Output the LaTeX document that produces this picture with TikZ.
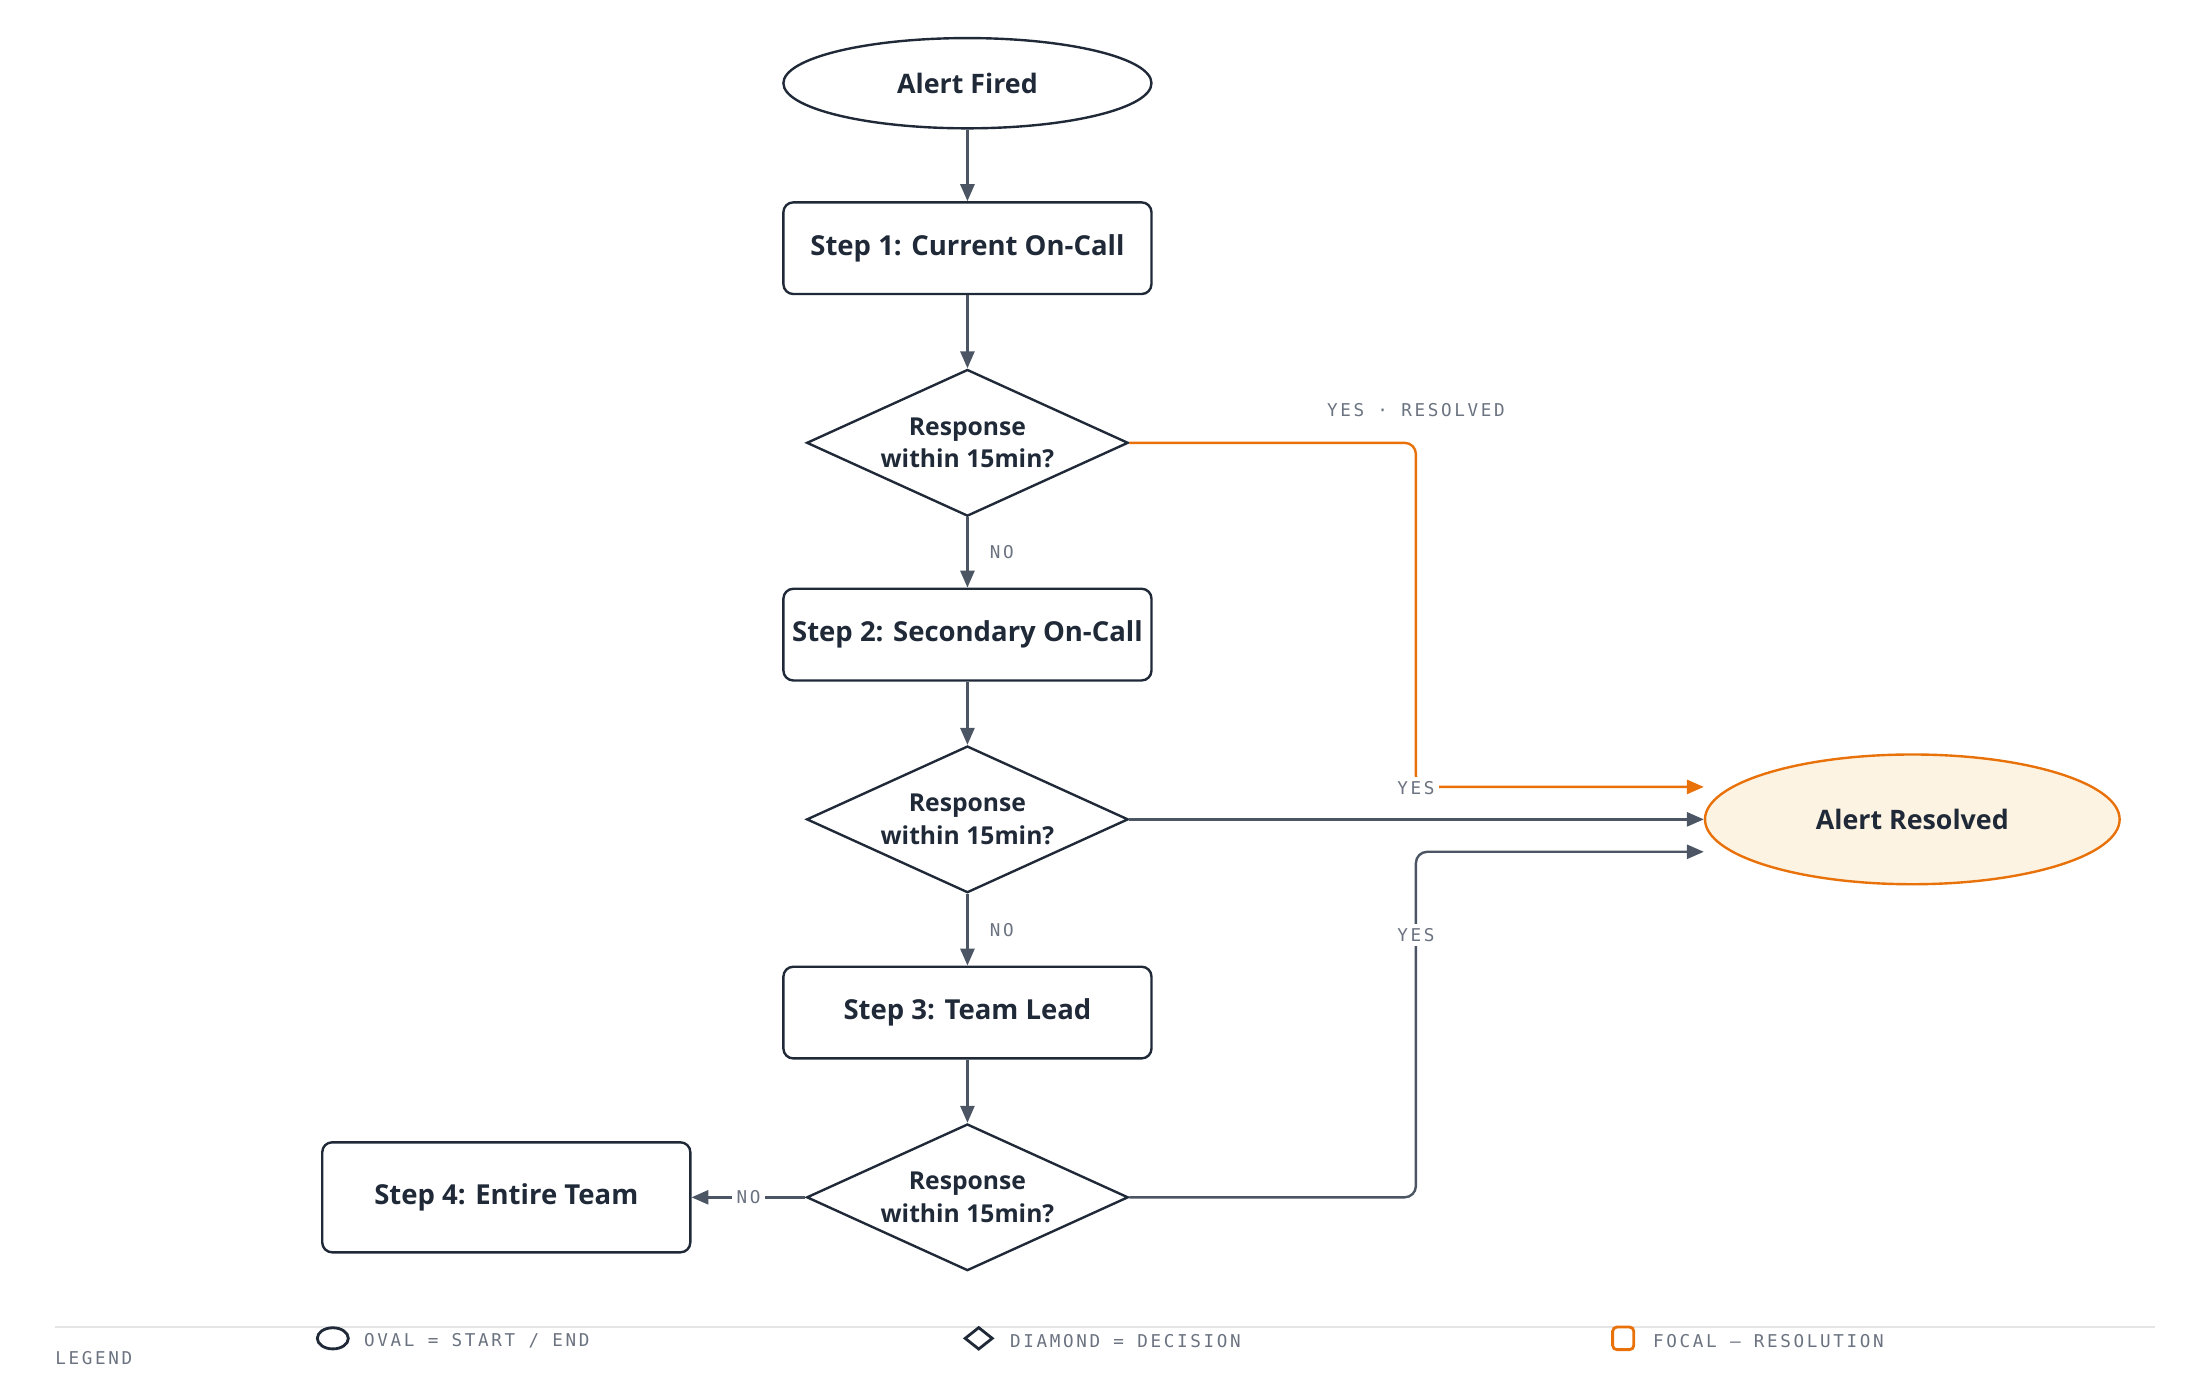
\documentclass[tikz,border=0pt]{standalone}
\usepackage{fontspec}
\setmainfont{Open Sans}
\newfontfamily\labf{DejaVu Sans Mono}[LetterSpace=15]
\usetikzlibrary{shapes.geometric,arrows.meta}
\definecolor{ink}{HTML}{1F2937}
\definecolor{arr}{HTML}{4B5563}
\definecolor{lab}{HTML}{6B7280}
\definecolor{org}{HTML}{E8710A}
\definecolor{cream}{HTML}{FDF3E3}
\begin{document}
\begin{tikzpicture}[x=1pt,y=-1pt,
  box/.style={draw=ink,line width=1.7pt,rounded corners=7pt,minimum width=261pt,minimum height=65pt,font=\fontsize{19.5}{22}\selectfont\bfseries,text=ink},
  dec/.style={draw=ink,line width=1.7pt,diamond,aspect=2.2,minimum width=228pt,minimum height=104pt,inner sep=0pt,align=center,font=\fontsize{17.5}{23}\selectfont\bfseries,text=ink},
  oval/.style={draw=ink,line width=1.7pt,ellipse,minimum width=261pt,minimum height=64pt,font=\fontsize{19}{22}\selectfont\bfseries,text=ink},
  fl/.style={draw=arr,line width=1.7pt,-{Triangle[length=12pt,width=10pt]}},
  lbl/.style={font=\labf\fontsize{12.5}{14}\selectfont,text=lab,fill=white,inner sep=3pt},
  leg/.style={font=\labf\fontsize{12.5}{14}\selectfont,text=lab,anchor=west,inner sep=0pt}]
\useasboundingbox (0,0) rectangle (1560,976);
\node[oval] (start) at (686,59) {Alert Fired};
\node[box] (s1) at (686,176) {Step 1: Current On-Call};
\node[dec] (d1) at (686,314) {Response\\within 15min?};
\node[box] (s2) at (686,450) {Step 2: Secondary On-Call};
\node[dec] (d2) at (686,581) {Response\\within 15min?};
\node[box] (s3) at (686,718) {Step 3: Team Lead};
\node[dec] (d3) at (686,849) {Response\\within 15min?};
\node[box,minimum height=78pt] (s4) at (359,849) {Step 4: Entire Team};
\node[oval,draw=org,fill=cream,minimum width=294pt,minimum height=92pt] (res) at (1356,581) {Alert Resolved};
\coordinate (c1) at (1004,314);
\coordinate (c2) at (1004,604);
\draw[fl] (start) -- (s1);
\draw[fl] (s1) -- (d1);
\draw[fl] (d1) -- node[lbl,right=12pt,fill=none]{NO} (s2);
\draw[fl] (s2) -- (d2);
\draw[fl] (d2) -- node[lbl,right=12pt,fill=none]{NO} (s3);
\draw[fl] (s3) -- (d3);
\draw[fl] (d3) -- node[lbl,pos=0.5]{NO} (s4);
\draw[fl] (d2.east) -- (res.west);
\draw[fl,draw=org,rounded corners=8pt] (d1.east) -- (c1) -- (1004,558) -- (res.west |- 0,558);
\node[lbl] at (1004,559) {YES};
\node[lbl,fill=none] at (1004,291) {YES · RESOLVED};
\draw[fl,rounded corners=8pt] (d3.east) -- (1004,849) -- (c2) -- (res.west |- c2);
\node[lbl] at (1004,663) {YES};
% legend
\draw[draw=black!10,line width=1pt] (39,941) -- (1528,941);
\node[leg] (lg) at (39,963) {LEGEND};
\node[draw=ink,line width=2pt,ellipse,minimum width=22pt,minimum height=15pt,inner sep=0pt] (i1) at (236,949) {};
\node[leg] (t1) at (258,951) {OVAL = START / END};
\node[draw=ink,line width=2pt,diamond,minimum width=20pt,minimum height=16pt,inner sep=0pt] (i2) at (694,949) {};
\node[leg] (t2) at (716,951) {DIAMOND = DECISION};
\node[draw=org,line width=2pt,rounded corners=3pt,minimum width=15pt,minimum height=16pt,inner sep=0pt] (i3) at (1151,949) {};
\node[leg] (t3) at (1172,951) {FOCAL — RESOLUTION};
\end{tikzpicture}
\end{document}
